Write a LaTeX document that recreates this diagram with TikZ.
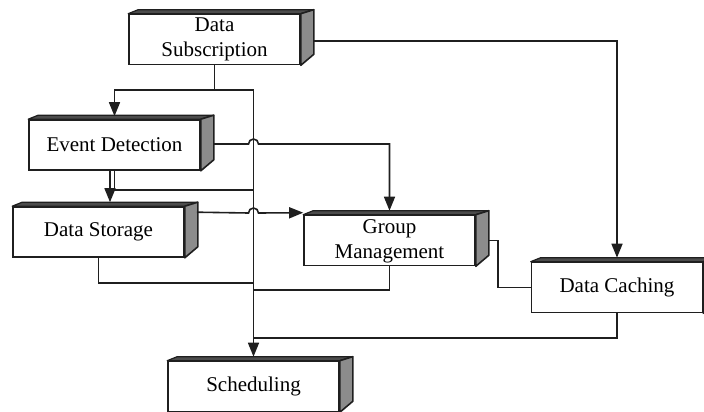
\documentclass[tikz,border=0pt]{standalone}
\usepackage{fontspec}
\setmainfont{Liberation Serif}
\usetikzlibrary{arrows.meta,calc}
\newcommand\twolines[2]{\raisebox{-3pt}{\begin{tabular}{@{}c@{}}#1\\#2\end{tabular}}}
\begin{document}
\begin{tikzpicture}[x=1pt,y=1pt,
  conn/.style={line width=1.6pt,draw=black!88},
  arr/.style={conn,-{Triangle[length=14pt,width=11pt]}},
  blk/.style={draw=black!88,line width=1.6pt,fill=white,minimum width=171pt,
    minimum height=50pt,inner sep=0pt,align=center,
    font=\fontsize{21}{25}\selectfont},
  topface/.style={fill=black!70,draw=black!88,line width=1.2pt,line join=round},
  sideface/.style={fill=black!45,draw=black!88,line width=1.6pt,line join=round}]
\useasboundingbox (0,0) rectangle (704,-412);

% blocks (front faces)
\node[blk] (sub) at (214.5,-39.5) {\twolines{Data}{Subscription}};
\node[blk] (evt) at (114.5,-145) {Event Detection};
\node[blk] (sto) at (98.5,-232) {Data Storage};
\node[blk] (grp) at (389.5,-240.5) {\twolines{Group}{Management}};
\node[blk] (cac) at (617,-287.5) {Data Caching};
\node[blk] (sch) at (253.5,-386.5) {Scheduling};

% 3D top and side faces
\foreach \n in {sub,evt,sto,grp,cac,sch}{
  \path[topface] (\n.north west) -- ++(10,4) -- ($(\n.north east)+(13,4)$)
    -- (\n.north east) -- cycle;
  \path[sideface] (\n.north east) -- ++(13,4) -- ($(\n.south east)+(13,11)$)
    -- (\n.south east) -- cycle;
}

% trunk coordinates
\coordinate (t90)  at (sch.north |- 0,-90);
\coordinate (t190) at (sch.north |- 0,-190);
\coordinate (t283) at (sch.north |- 0,-283);
\coordinate (t290) at (sch.north |- 0,-290);
\coordinate (t338) at (sch.north |- 0,-338);

% Data Subscription fan-out
\draw[conn] (sub.south) -- (sub.south |- t90);
\draw[arr] (t90) -| ($(evt.north)+(0,3)$);
\draw[arr] (t90) -- ($(sch.north)+(0,4)$);
\draw[arr] ($(sub.east)+(13,-1.5)$) -| ($(cac.north)+(0,4)$);

% Event Detection outputs
\draw[arr] ($(evt.east)+(13,1)$) -- ($(t90|-0,-144)+(-5,0)$)
  arc[start angle=180,end angle=0,radius=5] -| ($(grp.north)+(0,4)$);
\draw[arr] ($(evt.south)+(-4.5,0)$) -- ($(sto.north)+(11.5,4)$);
\draw[conn] (evt.south) |- (t190);

% Data Storage outputs
\draw[arr] ($(sto.north east)+(12,-6)$) -- ($(t90|-0,-213)+(-5,0)$)
  arc[start angle=180,end angle=0,radius=5] -- ($(grp.north west)+(0,2)$);
\draw[conn] (sto.south) |- (t283);

% Group Management outputs
\draw[conn] (grp.south) |- (t290);
\draw[conn] ($(grp.east)+(13,0)$) -- (498,-240.5) |- (cac.west);

% Data Caching output
\draw[conn] (cac.south) |- (t338);
\end{tikzpicture}
\end{document}
